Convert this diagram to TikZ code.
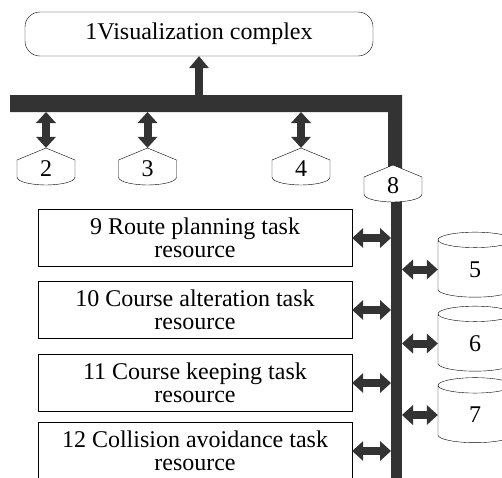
\documentclass[tikz,border=0pt]{standalone}
\usepackage{fontspec}
\setmainfont{Liberation Serif}
\usetikzlibrary{arrows.meta,shapes.geometric}

\begin{document}
\begin{tikzpicture}[x=1pt,y=-1pt,font=\fontsize{24}{22.5}\selectfont]
        \tikzstyle{every node}=[inner sep=1pt]
        \tikzstyle{task}=[draw,minimum width=314pt,minimum height=57pt,align=center]
        \tikzstyle{shieldbox}=[minimum width=58pt,minimum height=37pt]
        \tikzstyle{store}=[draw,cylinder,shape border rotate=90,aspect=1.1,minimum width=74pt,minimum height=65pt]
        \tikzstyle{busbar}=[fill=black!80]
        \tikzstyle{link}=[draw=black!80,line width=8pt,{Triangle[width=20pt,length=11pt,line width=0pt]}-{Triangle[width=20pt,length=11pt,line width=0pt]}]
        \tikzstyle{up}=[draw=black!80,line width=8pt,-{Triangle[width=20pt,length=12pt,line width=0pt]}]
        \useasboundingbox (0,0) rectangle (502,477);
        % bus and trunk
        \fill[busbar] (10,95) -| (402,180) -- (388,180) |- (10,112) -- cycle;
        \fill[busbar] (391,190) rectangle (402,490);
        \coordinate (busT) at (0,95);
        \coordinate (busB) at (0,112);
        \coordinate (trL) at (391,0);
        \coordinate (trR) at (402,0);
        \node [draw,rounded corners=15pt,minimum width=348pt,minimum height=44pt] (vis) at (199,34) {1Visualization complex};
        \foreach \id/\cx/\cy in {2/46/166.5,3/147.5/166.5,4/301/166.5,8/393/183.5}{
            \draw[fill=white,shift={(\cx,\cy)}] (0,-18.5) -- (29,-6.5) -- (29,10.5) .. controls (29,16) and (12,18.5) .. (0,18.5) .. controls (-12,18.5) and (-29,16) .. (-29,10.5) -- (-29,-6.5) -- cycle;
            \node [shieldbox] (n\id) at (\cx,\cy+2) {\id};
        }
        \node [task] (b9) at (195,238) {9 Route planning task\\resource};
        \node [task] (b10) at (195,310) {10 Course alteration task\\resource};
        \node [task] (b11) at (195,383) {11 Course keeping task\\resource};
        \node [task] (b12) at (195,451) {12 Collision avoidance task\\resource};
        \node [store] (s5) at (475,269.5) {5};
        \node [store] (s6) at (475,343.5) {6};
        \node [store] (s7) at (475,415) {7};
        \draw[up] (vis.south |- busT) -- (vis.south);
        \foreach \n in {n2,n3,n4} \draw[link] (\n.north |- busB) -- ([yshift=2pt]\n.north);
        \foreach \b in {b9,b10,b11,b12} \draw[link] (\b.east) -- (\b.east -| trL);
        \foreach \s in {s5,s6,s7} \draw[link] (\s.west -| trR) -- (\s.west);
\end{tikzpicture}
\end{document}
